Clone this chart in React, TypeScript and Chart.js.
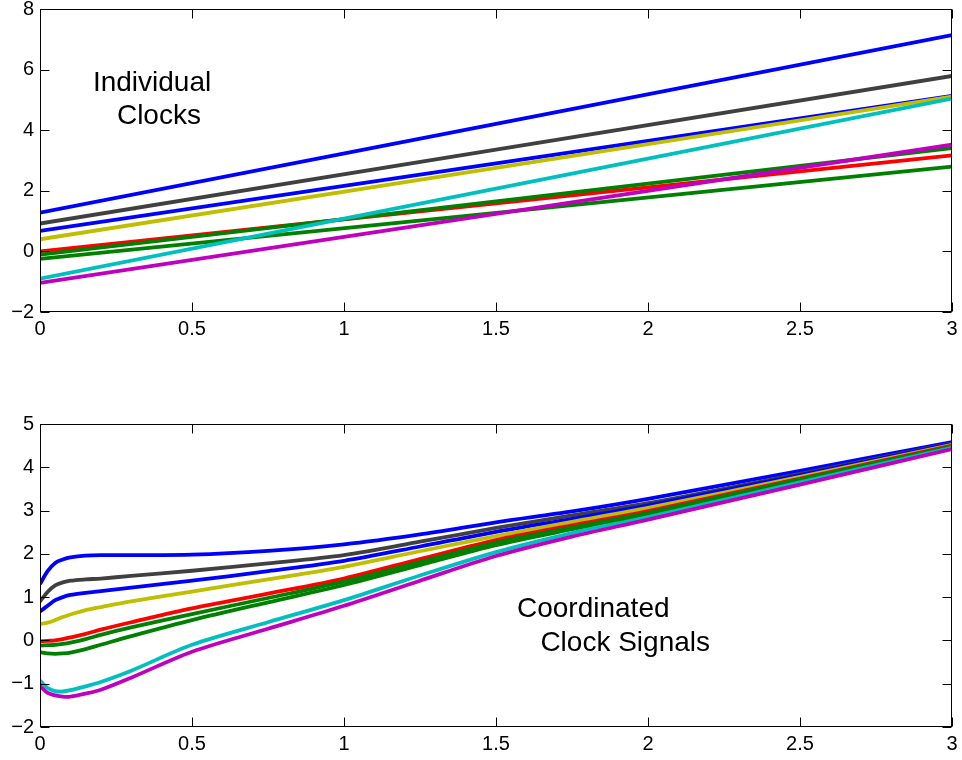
import React, { useEffect, useRef } from "react";
import { Chart, registerables } from "chart.js";

Chart.register(...registerables);

// ---------- data ----------
const TOP_X = [0, 3];
const TOP_BLUE1 = [1.28, 7.14];
const TOP_GRAY = [0.92, 5.79];
const TOP_BLUE2 = [0.68, 5.13];
const TOP_YELLOW = [0.4, 5.11];
const TOP_RED = [0.0, 3.17];
const TOP_GREEN1 = [-0.11, 3.41];
const TOP_GREEN2 = [-0.25, 2.8];
const TOP_CYAN = [-0.9, 5.04];
const TOP_MAGENTA = [-1.04, 3.52];

const BOT_X = [0, 0.025, 0.05, 0.075, 0.1, 0.15, 0.2, 0.3, 0.5, 0.75, 1, 1.25, 1.5, 1.75, 2, 2.5, 3];
const BOT_BLUE1 = [1.3, 1.6, 1.79, 1.87, 1.92, 1.96, 1.97, 1.97, 1.98, 2.07, 2.22, 2.45, 2.73, 2.98, 3.27, 3.92, 4.58];
const BOT_GRAY = [0.9, 1.12, 1.27, 1.34, 1.38, 1.41, 1.43, 1.49, 1.61, 1.78, 1.97, 2.28, 2.6, 2.89, 3.17, 3.85, 4.55];
const BOT_BLUE2 = [0.67, 0.8, 0.93, 1.0, 1.05, 1.1, 1.14, 1.22, 1.38, 1.6, 1.84, 2.17, 2.51, 2.81, 3.12, 3.82, 4.54];
const BOT_YELLOW = [0.38, 0.41, 0.47, 0.54, 0.6, 0.7, 0.77, 0.9, 1.13, 1.41, 1.7, 2.06, 2.41, 2.74, 3.06, 3.78, 4.52];
const BOT_RED = [-0.02, -0.01, 0.0, 0.03, 0.07, 0.15, 0.25, 0.42, 0.74, 1.08, 1.43, 1.88, 2.32, 2.66, 2.99, 3.74, 4.5];
const BOT_GREEN1 = [-0.12, -0.11, -0.1, -0.08, -0.05, 0.03, 0.13, 0.3, 0.61, 0.98, 1.36, 1.81, 2.26, 2.61, 2.95, 3.72, 4.48];
const BOT_GREEN2 = [-0.27, -0.3, -0.31, -0.3, -0.28, -0.2, -0.1, 0.1, 0.47, 0.88, 1.28, 1.74, 2.2, 2.57, 2.92, 3.7, 4.47];
const BOT_CYAN = [-0.93, -1.1, -1.17, -1.18, -1.15, -1.06, -0.96, -0.7, -0.1, 0.42, 0.93, 1.5, 2.04, 2.48, 2.85, 3.65, 4.45];
const BOT_MAGENTA = [-1.06, -1.21, -1.27, -1.3, -1.3, -1.23, -1.14, -0.86, -0.26, 0.27, 0.8, 1.38, 1.95, 2.4, 2.79, 3.6, 4.42];

const TOP_LABELS = [
  { text: "Individual", x: 0.174, y: 5.3 },
  { text: "Clocks", x: 0.253, y: 4.2 },
];
const BOT_LABELS = [
  { text: "Coordinated", x: 1.569, y: 0.543 },
  { text: "Clock Signals", x: 1.646, y: -0.25 },
];

// ---------- styles ----------
const COLORS = {
  blue: "#0000ff",
  gray: "#404040",
  yellow: "#bfbf00",
  red: "#ff0000",
  green: "#008000",
  cyan: "#00bfbf",
  magenta: "#bf00bf",
};
const FONT = '"Liberation Sans", Arial, Helvetica, sans-serif';

function series(xs: number[], ys: number[]) {
  return xs.map((x, i) => ({ x, y: ys[i] }));
}

function makeDatasets(xs: number[], list: [number[], string][]) {
  return list.map(([ys, c], i) => ({
    label: "s" + i,
    data: series(xs, ys),
    borderColor: c,
    backgroundColor: c,
    borderWidth: 3.8,
    pointRadius: 0,
    fill: false,
    tension: 0.3,
    borderCapStyle: "butt",
    borderJoinStyle: "round",
    order: list.length - i,
  }));
}

function framePlugin(texts: { text: string; x: number; y: number }[]) {
  return {
    id: "frame",
    afterDraw(chart: any) {
      const { ctx, chartArea: a, scales } = chart;
      ctx.save();
      ctx.strokeStyle = "#000";
      ctx.lineWidth = 1;
      const L = Math.round(a.left) + 0.5;
      const R = Math.round(a.right) - 0.5;
      const T = Math.round(a.top) + 0.5;
      const B = Math.round(a.bottom) - 0.5;
      ctx.strokeRect(L, T, R - L, B - T);
      const len = 9;
      ctx.beginPath();
      scales.x.ticks.forEach((t: any) => {
        const px = Math.round(scales.x.getPixelForValue(t.value)) + 0.5;
        ctx.moveTo(px, B);
        ctx.lineTo(px, B - len);
        ctx.moveTo(px, T);
        ctx.lineTo(px, T + len);
      });
      scales.y.ticks.forEach((t: any) => {
        const py = Math.round(scales.y.getPixelForValue(t.value)) + 0.5;
        ctx.moveTo(L, py);
        ctx.lineTo(L + len, py);
        ctx.moveTo(R, py);
        ctx.lineTo(R - len, py);
      });
      ctx.stroke();
      ctx.fillStyle = "#000";
      ctx.font = "28px " + FONT;
      ctx.textAlign = "left";
      ctx.textBaseline = "alphabetic";
      texts.forEach((tx) => {
        ctx.fillText(tx.text, scales.x.getPixelForValue(tx.x), scales.y.getPixelForValue(tx.y));
      });
      ctx.restore();
    },
  };
}

function makeConfig(
  datasets: any[],
  yMin: number,
  yMax: number,
  yStep: number,
  padTop: number,
  xHeight: number,
  texts: { text: string; x: number; y: number }[]
): any {
  return {
    type: "line",
    data: { datasets },
    options: {
      animation: false,
      responsive: false,
      maintainAspectRatio: false,
      layout: { padding: { top: padTop, right: 10, left: 0, bottom: 0 } },
      plugins: { legend: { display: false }, tooltip: { enabled: false } },
      scales: {
        x: {
          type: "linear",
          min: 0,
          max: 3,
          grid: { display: false, drawTicks: false },
          border: { display: false },
          ticks: {
            stepSize: 0.5,
            padding: 5,
            color: "#000",
            font: { family: FONT, size: 20 },
            maxRotation: 0,
            autoSkip: false,
            callback: (v: any) => String(Number(v)),
          },
          afterFit: (s: any) => {
            s.height = xHeight;
            s.paddingLeft = 0;
            s.paddingRight = 0;
            s.paddingTop = 0;
            s.paddingBottom = 0;
          },
        },
        y: {
          type: "linear",
          min: yMin,
          max: yMax,
          grid: { display: false, drawTicks: false },
          border: { display: false },
          ticks: {
            stepSize: yStep,
            padding: 6,
            color: "#000",
            font: { family: FONT, size: 20 },
            callback: (v: any) => String(Number(v)).replace("-", "\u2212"),
          },
          afterFit: (s: any) => {
            s.width = 40;
            s.paddingLeft = 0;
            s.paddingRight = 0;
            s.paddingTop = 0;
            s.paddingBottom = 0;
          },
        },
      },
    },
    plugins: [framePlugin(texts)],
  };
}

function ChartCanvas({ config, top, height }: { config: () => any; top: number; height: number }) {
  const ref = useRef<HTMLCanvasElement | null>(null);
  useEffect(() => {
    if (!ref.current) return;
    const chart = new Chart(ref.current, config());
    return () => chart.destroy();
  }, []);
  return (
    <canvas
      ref={ref}
      width={962}
      height={height}
      style={{ position: "absolute", left: 0, top, width: 962, height }}
    />
  );
}

export default function App() {
  const topConfig = () =>
    makeConfig(
      makeDatasets(TOP_X, [
        [TOP_BLUE1, COLORS.blue],
        [TOP_GRAY, COLORS.gray],
        [TOP_BLUE2, COLORS.blue],
        [TOP_YELLOW, COLORS.yellow],
        [TOP_RED, COLORS.red],
        [TOP_GREEN1, COLORS.green],
        [TOP_GREEN2, COLORS.green],
        [TOP_CYAN, COLORS.cyan],
        [TOP_MAGENTA, COLORS.magenta],
      ]),
      -2,
      8,
      2,
      9,
      58,
      TOP_LABELS
    );
  const botConfig = () =>
    makeConfig(
      makeDatasets(BOT_X, [
        [BOT_BLUE1, COLORS.blue],
        [BOT_GRAY, COLORS.gray],
        [BOT_BLUE2, COLORS.blue],
        [BOT_YELLOW, COLORS.yellow],
        [BOT_RED, COLORS.red],
        [BOT_GREEN1, COLORS.green],
        [BOT_GREEN2, COLORS.green],
        [BOT_CYAN, COLORS.cyan],
        [BOT_MAGENTA, COLORS.magenta],
      ]),
      -2,
      5,
      1,
      24,
      33,
      BOT_LABELS
    );
  return (
    <div style={{ position: "absolute", left: 0, top: 0, width: 962, height: 760, background: "#fff" }}>
      <ChartCanvas config={topConfig} top={0} height={370} />
      <ChartCanvas config={botConfig} top={400} height={360} />
    </div>
  );
}
